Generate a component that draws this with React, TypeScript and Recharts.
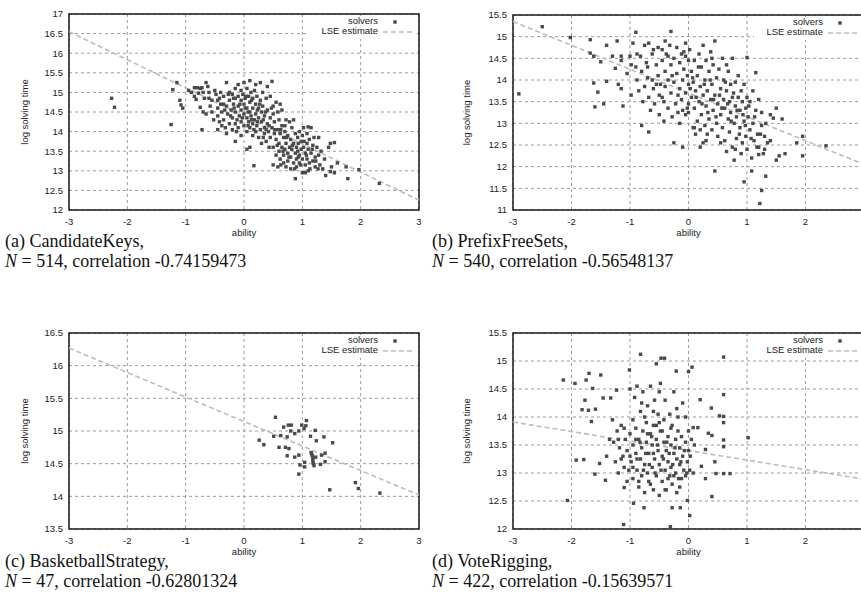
import React from 'react';
import { ScatterChart, Scatter, XAxis, YAxis, CartesianGrid, ReferenceLine, ReferenceArea } from 'recharts';

const xTicksFull = [-3, -2, -1, 0, 1, 2, 3];
const xTicksClipped = [-3, -2, -1, 0, 1, 2];
const yTicksA = [12, 12.5, 13, 13.5, 14, 14.5, 15, 15.5, 16, 16.5, 17];
const yTicksB = [11, 11.5, 12, 12.5, 13, 13.5, 14, 14.5, 15, 15.5];
const yTicksC = [13.5, 14, 14.5, 15, 15.5, 16, 16.5];
const yTicksD = [12, 12.5, 13, 13.5, 14, 14.5, 15, 15.5];

const captionsTitle = ['(a) CandidateKeys,', '(b) PrefixFreeSets,', '(c) BasketballStrategy,', '(d) VoteRigging,'];
const captionsN = ['514', '540', '47', '422'];
const captionsCorr = ['-0.74159473', '-0.56548137', '-0.62801324', '-0.15639571'];

const lseA = [{ x: -3, y: 16.55 }, { x: 3, y: 12.25 }];
const lseB = [{ x: -3, y: 15.35 }, { x: 3, y: 12.05 }];
const lseC = [{ x: -3, y: 16.27 }, { x: 3, y: 14.02 }];
const lseD = [{ x: -3, y: 13.91 }, { x: 3, y: 12.89 }];

const pointsA: [number, number][] = [
  [-2.27, 14.85], [-2.22, 14.62], [-1.25, 14.18], [-1.22, 15.07], [-1.15, 15.25], [-1.1, 14.8], [-1.05, 14.6], [-1.08, 14.68],
  [-0.95, 15.05], [-0.9, 15.0], [-0.85, 15.12], [-0.8, 15.12], [-0.78, 14.98], [-0.75, 15.1], [-0.72, 15.12], [-0.7, 15.0],
  [-0.68, 14.85], [-0.85, 14.9], [-0.82, 14.82], [-0.75, 14.62], [-0.7, 14.5], [-0.72, 14.05], [-0.65, 15.25], [-0.62, 15.15],
  [-0.6, 14.85], [-0.58, 14.65], [-0.55, 14.5], [-0.65, 14.45],
  [-0.5, 15.05], [-0.48, 14.95], [-0.45, 14.8], [-0.45, 14.6], [-0.45, 14.4], [-0.45, 14.05], [-0.42, 14.25], [-0.4, 15.0],
  [-0.4, 14.7], [-0.38, 14.5], [-0.35, 14.9], [-0.35, 14.3], [-0.32, 14.1], [-0.3, 15.25], [-0.3, 14.65], [-0.3, 13.95],
  [-0.28, 14.45], [-0.25, 15.0], [-0.25, 14.8], [-0.25, 14.2], [-0.22, 14.55], [-0.2, 14.95], [-0.2, 14.35], [-0.2, 14.05],
  [-0.18, 14.7], [-0.15, 15.1], [-0.15, 14.85], [-0.15, 14.5], [-0.15, 14.2], [-0.12, 14.3], [-0.1, 15.2], [-0.1, 14.9],
  [-0.1, 14.65], [-0.1, 14.1], [-0.08, 14.4], [-0.05, 15.05], [-0.05, 14.8], [-0.05, 14.55], [-0.05, 14.25], [-0.05, 13.9],
  [-0.02, 14.95], [0, 15.25], [0, 14.7], [0, 14.45], [0, 14.15], [0.02, 14.85], [0.05, 15.1], [0.05, 14.6], [0.05, 14.35],
  [0.05, 14.0], [0.08, 14.9], [0.08, 14.25], [0.1, 15.3], [0.1, 14.75], [0.1, 14.5], [0.1, 14.1], [0.1, 13.6], [0.12, 15.0],
  [0.12, 14.4], [0.15, 14.85], [0.15, 14.6], [0.15, 14.2], [0.15, 13.9], [0.18, 15.05], [0.18, 14.3], [0.2, 15.2], [0.2, 14.7],
  [0.2, 14.45], [0.2, 14.0], [0.22, 14.9], [0.22, 14.15], [0.25, 14.6], [0.25, 14.35], [0.25, 13.85], [0.28, 15.25], [0.28, 14.8],
  [0.28, 14.05], [0.3, 14.5], [0.3, 14.25], [0.3, 13.7], [0.32, 15.0], [0.32, 14.65], [0.35, 14.4], [0.35, 14.1], [0.35, 13.95],
  [0.38, 14.85], [0.38, 13.75], [0.4, 15.15], [0.4, 14.55], [0.4, 14.2], [0.42, 14.0], [0.45, 14.9], [0.45, 14.35], [0.45, 13.85],
  [0.48, 15.28], [0.48, 14.1], [0.5, 14.65], [0.5, 14.45], [0.5, 13.6], [0.5, 13.15], [0.52, 14.25], [0.52, 13.95], [0.55, 14.75],
  [0.55, 13.8], [0.55, 13.4], [0.58, 14.5], [0.58, 14.05], [0.58, 13.1],
  [0.6, 14.3], [0.6, 13.7], [0.6, 13.5], [0.62, 14.7], [0.62, 13.95], [0.62, 13.3], [0.65, 14.55], [0.65, 14.15], [0.65, 13.6],
  [0.68, 13.85], [0.68, 13.4], [0.68, 13.2], [0.7, 14.0], [0.7, 13.55], [0.72, 14.3], [0.72, 13.7], [0.72, 13.1], [0.75, 13.9],
  [0.75, 13.45], [0.75, 13.25], [0.78, 14.25], [0.78, 13.6], [0.8, 13.8], [0.8, 13.35], [0.8, 13.05], [0.82, 14.1], [0.82, 13.55],
  [0.85, 14.3], [0.85, 13.7], [0.85, 13.2], [0.88, 13.95], [0.88, 13.45], [0.88, 12.8], [0.9, 13.6], [0.9, 13.3], [0.9, 13.1],
  [0.92, 13.85], [0.92, 13.5], [0.95, 14.0], [0.95, 13.2], [0.95, 13.4], [0.98, 13.75], [0.98, 13.55], [1.0, 13.9], [1.0, 13.3],
  [1.0, 12.95], [1.02, 14.1], [1.02, 13.6], [1.05, 13.45], [1.05, 13.15], [1.05, 12.95], [1.08, 13.95], [1.08, 13.7], [1.08, 13.3],
  [1.1, 14.12], [1.1, 13.55], [1.1, 13.0], [1.12, 13.8], [1.12, 13.2], [1.15, 14.1], [1.15, 13.45], [1.18, 13.65], [1.18, 13.25],
  [1.2, 13.85], [1.22, 13.35], [1.22, 13.1], [1.25, 13.6], [1.28, 13.85], [1.28, 13.4], [1.3, 13.15], [1.32, 13.5], [1.35, 13.05],
  [1.38, 13.3], [1.4, 12.88], [1.45, 13.6], [1.48, 13.7], [1.48, 12.98], [1.5, 13.1], [1.55, 13.72], [1.55, 12.95], [1.6, 13.2],
  [1.75, 13.1], [1.78, 12.8], [1.97, 13.03], [2.32, 12.68], [0.17, 13.13], [-0.15, 13.75], [0.05, 13.55],
  [-0.42, 14.85], [-0.38, 14.15], [-0.33, 14.55], [-0.27, 14.95], [-0.23, 14.4], [-0.17, 14.6], [-0.13, 14.0], [-0.07, 14.7],
  [-0.03, 14.35], [0.03, 14.9], [0.07, 14.5], [0.07, 14.15], [0.13, 14.8], [0.13, 14.3], [0.17, 14.05], [0.23, 14.55],
  [0.23, 14.25], [0.27, 14.7], [0.33, 14.3], [0.33, 13.85], [0.37, 14.5], [0.43, 14.15], [0.47, 14.6], [0.53, 14.05],
  [0.57, 13.65], [0.63, 14.05], [0.67, 13.5], [0.73, 13.85], [0.77, 13.35], [0.83, 13.65], [0.87, 13.05], [0.93, 13.35],
  [0.97, 13.15], [1.03, 13.75], [1.07, 13.4], [1.13, 13.05], [1.17, 13.55], [1.23, 13.25], [1.27, 13.05], [0.93, 13.7],
  [0.63, 13.15], [0.43, 13.6], [-0.6, 15.0], [-0.55, 14.8], [-0.52, 14.3], [-0.35, 14.7], [-0.18, 14.85], [0.02, 14.6],
  [0.38, 14.05], [0.7, 14.15],
];

const pointsB: [number, number][] = [
  [-2.9, 13.68], [-2.5, 15.23], [-2.02, 14.98], [-1.68, 14.93], [-1.68, 14.62], [-1.62, 14.55], [-1.62, 13.93], [-1.55, 13.72],
  [-1.6, 13.38], [-1.45, 13.45], [-1.5, 14.42], [-1.4, 14.8], [-1.4, 13.97], [-1.3, 14.55], [-1.25, 14.27], [-1.22, 14.9],
  [-1.15, 14.55], [-1.15, 14.45], [-1.2, 13.9], [-1.15, 13.8], [-1.12, 13.4], [-1.05, 14.15], [-1.0, 14.55], [-0.98, 14.35],
  [-0.95, 14.85], [-0.9, 15.1], [-0.88, 14.6], [-0.98, 13.65], [-0.8, 12.95], [-0.68, 12.8], [-0.3, 15.12], [-0.25, 12.55],
  [-0.1, 12.45], [0.2, 12.45], [0.25, 12.55], [0.45, 11.9], [0.95, 11.65], [1.08, 11.9], [1.22, 11.15], [1.25, 11.45],
  [1.32, 11.78], [1.2, 12.28], [1.5, 12.15], [1.55, 12.25], [1.65, 12.3], [1.95, 12.25], [1.95, 12.7], [1.85, 12.55],
  [2.35, 12.48], [1.6, 13.1], [1.5, 13.35], [1.45, 13.12], [1.4, 13.2], [1.15, 14.17], [1.0, 14.52],
  [-0.9, 14.3], [-0.88, 14.0], [-0.85, 13.75], [-0.82, 14.55], [-0.8, 14.2], [-0.78, 13.5], [-0.75, 14.8], [-0.75, 13.85],
  [-0.72, 14.4], [-0.7, 14.05], [-0.68, 13.6], [-0.68, 14.85], [-0.65, 13.3], [-0.62, 14.6], [-0.62, 14.0], [-0.6, 13.8],
  [-0.58, 13.45], [-0.55, 14.35], [-0.52, 14.75], [-0.52, 14.1], [-0.5, 13.65], [-0.5, 13.2], [-0.48, 13.9],
  [-0.45, 14.45], [-0.45, 14.7], [-0.42, 13.5], [-0.42, 13.05], [-0.4, 14.2], [-0.4, 13.85], [-0.38, 14.6], [-0.35, 13.35],
  [-0.35, 14.0], [-0.32, 14.8], [-0.3, 13.7], [-0.3, 14.35], [-0.28, 13.15], [-0.25, 14.5], [-0.25, 13.95], [-0.22, 13.45],
  [-0.2, 14.75], [-0.2, 14.15], [-0.18, 13.25], [-0.15, 13.8], [-0.15, 14.4], [-0.12, 14.6], [-0.12, 13.55], [-0.1, 14.0],
  [-0.1, 13.3], [-0.08, 14.25], [-0.05, 14.55], [-0.05, 13.7], [-0.05, 13.2], [-0.02, 14.1], [0, 13.9], [0, 14.45], [0, 13.45],
  [0, 13.25], [0.02, 14.7], [0.05, 14.2], [0.05, 13.6], [0.08, 13.95], [0.08, 12.9], [0.1, 14.45], [0.1, 13.35], [0.12, 12.75],
  [0.12, 13.75], [0.15, 14.1], [0.15, 13.05], [0.18, 14.6], [0.18, 13.5], [0.2, 13.85], [0.2, 12.85], [0.22, 14.3], [0.22, 13.2],
  [0.25, 14.8], [0.25, 13.65], [0.28, 14.0], [0.28, 12.95], [0.3, 14.45], [0.3, 13.4], [0.32, 13.75], [0.32, 12.75], [0.35, 14.2],
  [0.35, 13.1], [0.38, 13.55], [0.38, 14.65], [0.4, 13.9], [0.4, 12.85], [0.42, 14.35], [0.42, 13.3], [0.45, 13.65], [0.45, 14.9],
  [0.48, 13.0], [0.48, 14.05], [0.5, 13.45], [0.5, 12.7], [0.52, 14.25], [0.55, 13.8], [0.55, 13.2], [0.58, 14.5], [0.58, 12.9],
  [0.6, 13.55], [0.6, 14.0], [0.62, 12.6], [0.62, 13.35], [0.65, 13.75], [0.65, 12.35], [0.68, 14.2], [0.68, 13.1], [0.7, 13.5],
  [0.7, 12.8], [0.72, 13.9], [0.72, 13.25], [0.75, 12.45], [0.75, 14.5], [0.75, 13.6], [0.78, 13.0], [0.78, 12.15], [0.8, 13.4],
  [0.8, 13.95], [0.82, 12.65], [0.82, 13.15], [0.85, 13.6], [0.85, 14.1], [0.88, 12.9], [0.88, 13.3], [0.9, 12.3], [0.9, 13.75],
  [0.92, 13.5], [0.92, 12.55], [0.95, 13.05], [0.95, 13.9], [0.98, 12.7], [0.98, 13.35], [1.0, 13.6], [1.0, 12.4], [1.02, 13.15],
  [1.05, 12.85], [1.05, 13.5], [1.08, 12.2], [1.1, 13.0], [1.1, 13.75], [1.12, 12.6], [1.15, 13.3], [1.18, 12.75], [1.2, 13.55],
  [1.2, 12.45], [1.25, 12.95], [1.25, 13.25], [1.28, 12.3], [1.3, 12.7], [1.32, 13.0], [1.35, 12.55],
  [-0.7, 14.3], [-0.6, 14.7], [-0.55, 13.9], [-0.45, 13.6], [-0.35, 14.55], [-0.28, 14.1], [-0.18, 13.65], [-0.08, 14.65],
  [-0.02, 13.35], [0.03, 13.8], [0.07, 14.05], [0.13, 13.6], [0.17, 14.3], [0.23, 13.45], [0.27, 13.9], [0.33, 13.25],
  [0.37, 14.0], [0.43, 13.55], [0.47, 13.15], [0.53, 13.65], [0.57, 13.35], [0.63, 13.95], [0.67, 13.45], [0.73, 13.05],
  [0.77, 13.7], [0.83, 13.3], [0.87, 12.75], [0.93, 13.2], [0.97, 12.95], [1.03, 13.4], [1.07, 12.65], [1.13, 13.15],
  [1.17, 12.45], [1.23, 12.75], [0.3, 12.6], [0.1, 12.9], [-0.15, 13.0], [0.55, 12.55], [0.8, 12.4], [1.4, 12.6], [1.3, 12.4],
  [0.65, 14.35], [0.4, 14.5], [-0.05, 14.85], [-0.4, 14.9],
];

const pointsC: [number, number][] = [
  [0.26, 14.86], [0.34, 14.79], [0.54, 15.21], [0.51, 14.92], [0.6, 14.75], [0.63, 14.93], [0.68, 15.06], [0.76, 15.09],
  [0.81, 15.09], [0.8, 15.0], [0.74, 14.91], [0.71, 14.75], [0.77, 14.73], [0.74, 14.62], [0.87, 14.96], [0.87, 14.6],
  [0.94, 15.0], [0.94, 14.63], [0.96, 14.48], [0.94, 14.34], [0.99, 15.09], [1.03, 15.04], [1.06, 15.08], [1.07, 15.16],
  [1.04, 14.52], [1.04, 14.45], [1.14, 14.92], [1.16, 14.65], [1.17, 14.62], [1.18, 14.58], [1.18, 14.54], [1.19, 14.5],
  [1.2, 14.47], [1.22, 15.01], [1.24, 14.85], [1.31, 14.49], [1.33, 14.63], [1.37, 14.91], [1.39, 14.66], [1.39, 14.53],
  [1.52, 14.82], [1.47, 14.1], [1.91, 14.21], [1.96, 14.12], [2.33, 14.05], [1.23, 14.6], [1.15, 14.67],
];

const pointsD: [number, number][] = [
  [-2.14, 14.66], [-1.94, 14.6], [-2.07, 12.51], [-1.92, 13.23], [-1.79, 13.24], [-1.75, 14.66], [-1.7, 14.78], [-1.64, 14.51],
  [-1.77, 14.3], [-1.82, 14.13], [-1.66, 13.92], [-1.71, 14.12], [-1.59, 14.14], [-1.5, 14.75], [-1.46, 14.34], [-1.33, 14.34],
  [-1.6, 12.98], [-1.52, 13.17], [-1.42, 12.87], [-1.23, 14.48], [-1.11, 12.08], [-1.1, 12.74], [-0.82, 15.12], [-0.55, 14.95],
  [-0.47, 15.05], [-0.41, 15.05], [-0.21, 14.82], [0, 14.81], [0.06, 14.89], [-0.31, 12.04], [0.02, 12.24], [-0.02, 12.51],
  [-0.28, 12.38], [-0.14, 12.38], [-0.94, 12.46], [-0.76, 12.38], [0.6, 15.07], [0.6, 14.4], [0.39, 14.16], [0.53, 14.02],
  [0.6, 14.01], [0.6, 13.9], [0.6, 13.59], [0.6, 13.47], [0.6, 12.99], [0.71, 12.99], [0.47, 12.99], [0.45, 13.2], [1.02, 13.63],
  [0.4, 12.58], [0.29, 12.9], [0.2, 14.31], [0.34, 13.71], [0.4, 13.67], [0.22, 13.12], [0.08, 13.81], [0.16, 13.81], [0.29, 13.42],
  [-1.01, 14.84],
  [-1.3, 13.95], [-1.28, 13.55], [-1.25, 13.2], [-1.22, 13.75], [-1.2, 13.0], [-1.18, 13.45], [-1.15, 13.85], [-1.12, 13.3],
  [-1.1, 13.1], [-1.08, 13.6], [-1.05, 13.4], [-1.05, 12.85], [-1.02, 13.05], [-1.0, 13.7], [-1.0, 14.5],
  [-0.98, 13.2], [-0.95, 13.5], [-0.95, 12.9], [-0.92, 14.35], [-0.9, 13.8], [-0.9, 13.35], [-0.88, 14.55], [-0.88, 13.05],
  [-0.85, 13.6], [-0.85, 12.75], [-0.82, 14.1], [-0.82, 13.25], [-0.8, 13.45], [-0.8, 12.95], [-0.78, 13.75], [-0.78, 14.45],
  [-0.75, 13.15], [-0.75, 12.65], [-0.72, 13.55], [-0.72, 13.9], [-0.7, 13.0], [-0.7, 14.2],
  [-0.68, 13.35], [-0.68, 12.85], [-0.65, 13.7], [-0.65, 14.55], [-0.62, 13.1], [-0.62, 13.5], [-0.6, 12.7], [-0.6, 13.85],
  [-0.58, 13.25], [-0.58, 14.3], [-0.55, 13.6], [-0.55, 12.95], [-0.52, 13.4], [-0.52, 14.05], [-0.5, 13.15], [-0.5, 12.6],
  [-0.48, 13.75], [-0.48, 14.6], [-0.45, 13.3], [-0.45, 12.85], [-0.42, 13.55], [-0.42, 13.95], [-0.4, 13.05], [-0.4, 14.3],
  [-0.38, 13.4], [-0.38, 12.7], [-0.35, 13.65], [-0.35, 13.2], [-0.32, 12.95], [-0.32, 14.05], [-0.3, 13.5], [-0.3, 13.1],
  [-0.28, 12.8], [-0.28, 13.85], [-0.25, 13.35], [-0.25, 14.45], [-0.22, 13.0], [-0.22, 13.6], [-0.2, 13.25], [-0.2, 12.65],
  [-0.18, 13.75], [-0.18, 14.0], [-0.15, 13.15], [-0.15, 13.45], [-0.12, 12.9], [-0.12, 13.65], [-0.1, 13.3], [-0.1, 14.25],
  [-0.08, 13.05], [-0.05, 13.55], [-0.05, 12.95], [-0.02, 13.2], [0, 13.75], [0, 13.4], [0.02, 13.05], [0.05, 13.6], [0.08, 13.0],
  [-0.05, 14.0], [-0.15, 12.75], [-0.6, 13.35], [-0.9, 13.6], [-1.15, 13.25], [-0.35, 12.9], [-0.5, 13.9],
  [-1.2, 13.6], [-1.1, 13.8], [-1.0, 13.3], [-0.95, 13.1], [-0.88, 13.25], [-0.83, 13.55], [-0.77, 13.05], [-0.73, 13.35],
  [-0.67, 13.15], [-0.63, 13.65], [-0.57, 13.0], [-0.53, 13.5], [-0.47, 13.05], [-0.43, 13.25], [-0.37, 13.55], [-0.33, 13.35],
  [-0.27, 13.15], [-0.23, 13.45], [-0.17, 12.9], [-0.13, 13.2], [-0.07, 13.4], [-0.03, 13.0], [0.03, 13.3], [-0.45, 13.75],
  [-0.55, 13.85], [-0.7, 13.7], [-0.85, 12.85], [-0.65, 12.8], [-0.4, 12.7], [-0.25, 12.95], [-0.95, 13.95], [-0.3, 13.8],
  [-0.6, 14.1], [-0.8, 14.25], [-1.35, 13.6], [-1.4, 13.3], [-0.2, 14.15], [0.1, 13.5], [-0.5, 14.45], [-0.75, 14.0],
];

const SANS = '"Liberation Sans", Arial, sans-serif';
const SERIF = '"Liberation Serif", "Times New Roman", serif';
const INK = '#222';
const DOT = '#4a4a4a';

const square = (p: any) => (
  <rect x={p.cx - 1.7} y={p.cy - 1.7} width={3.4} height={3.4} fill={DOT} />
);

type PanelProps = {
  left: number; top: number; width: number; height: number;
  marginTop: number; marginRight: number; yAxisWidth: number; yLabelOffset: number;
  xTicks: number[]; yDomain: [number, number]; yTicks: number[];
  points: [number, number][]; lse: { x: number; y: number }[];
};

function Panel(props: PanelProps) {
  const { left, top, width, height, marginTop, marginRight, yAxisWidth, yLabelOffset, xTicks, yDomain, yTicks, points, lse } = props;
  const data = points.map(([x, y]) => ({ x, y }));
  const plotRight = width - marginRight;
  return (
    <div style={{ position: 'absolute', left, top, width, height }}>
      <ScatterChart width={width} height={height} margin={{ top: marginTop, right: marginRight, bottom: 0, left: 0 }}>
        <CartesianGrid stroke="#9a9a9a" strokeDasharray="3 3" strokeWidth={1} />
        <XAxis
          type="number" dataKey="x" domain={[-3, 3]} ticks={xTicks} allowDataOverflow
          height={30} tickLine={false} axisLine={false} interval={0}
          tick={{ fontSize: 9.5, fill: INK, fontFamily: SANS }}
          label={{ value: 'ability', position: 'insideBottom', offset: 4, fontSize: 9.5, fill: INK, fontFamily: SANS }}
        />
        <YAxis
          type="number" dataKey="y" domain={yDomain} ticks={yTicks} allowDataOverflow
          width={yAxisWidth} tickLine={false} axisLine={false} tickMargin={0} interval={0}
          tick={{ fontSize: 9.5, fill: INK, fontFamily: SANS }}
          label={{ value: 'log solving time', angle: -90, position: 'insideLeft', offset: yLabelOffset, fontSize: 9.5, fill: INK, fontFamily: SANS, style: { textAnchor: 'middle' } }}
        />
        <ReferenceLine segment={[lse[0], lse[1]]} stroke="#bcbcbc" strokeWidth={1.6} strokeDasharray="5 3" />
        <Scatter data={data} shape={square} isAnimationActive={false} />
        <ReferenceArea x1={-3} x2={3} y1={yDomain[0]} y2={yDomain[1]} fill="none" fillOpacity={0} stroke="#1a1a1a" strokeWidth={1.5} />
      </ScatterChart>
      <div style={{ position: 'absolute', left: plotRight - 110, top: marginTop + 2, width: 106, height: 23, background: '#fff' }} />
      <div style={{ position: 'absolute', left: plotRight - 140, top: marginTop + 2, width: 99, textAlign: 'right', fontFamily: SANS, fontSize: 9.5, lineHeight: '10px', color: INK }}>
        <div>solvers</div>
        <div>LSE estimate</div>
      </div>
      <svg style={{ position: 'absolute', left: plotRight - 40, top: marginTop, overflow: 'visible' }} width={40} height={24}>
        <rect x={14.3} y={6.3} width={3.4} height={3.4} fill={DOT} />
        <line x1={4} x2={36} y1={18} y2={18} stroke="#bcbcbc" strokeWidth={1.6} strokeDasharray="5 3" />
      </svg>
    </div>
  );
}

function Caption({ left, top, idx }: { left: number; top: number; idx: number }) {
  return (
    <div style={{ position: 'absolute', left, top, fontFamily: SERIF, fontSize: 18, lineHeight: '20px', color: '#111', whiteSpace: 'nowrap' }}>
      <div>{captionsTitle[idx]}</div>
      <div><i>N</i> = {captionsN[idx]}, correlation {captionsCorr[idx]}</div>
    </div>
  );
}

export default function App() {
  return (
    <div style={{ position: 'absolute', left: 0, top: 0, width: 861, height: 615, overflow: 'hidden', background: '#fff' }}>
      <Panel left={0} top={0} width={430} height={240} marginTop={14} marginRight={11} yAxisWidth={69} yLabelOffset={25}
        xTicks={xTicksFull} yDomain={[12, 17]} yTicks={yTicksA} points={pointsA} lse={lseA} />
      <Panel left={430} top={0} width={445} height={240} marginTop={15} marginRight={11} yAxisWidth={83} yLabelOffset={37}
        xTicks={xTicksClipped} yDomain={[11, 15.5]} yTicks={yTicksB} points={pointsB} lse={lseB} />
      <Panel left={0} top={320} width={430} height={239} marginTop={13} marginRight={11} yAxisWidth={69} yLabelOffset={25}
        xTicks={xTicksFull} yDomain={[13.5, 16.5]} yTicks={yTicksC} points={pointsC} lse={lseC} />
      <Panel left={430} top={320} width={445} height={239} marginTop={13} marginRight={11} yAxisWidth={83} yLabelOffset={37}
        xTicks={xTicksClipped} yDomain={[12, 15.5]} yTicks={yTicksD} points={pointsD} lse={lseD} />
      <Caption left={5} top={231} idx={0} />
      <Caption left={432} top={231} idx={1} />
      <Caption left={5} top={551} idx={2} />
      <Caption left={432} top={551} idx={3} />
    </div>
  );
}
